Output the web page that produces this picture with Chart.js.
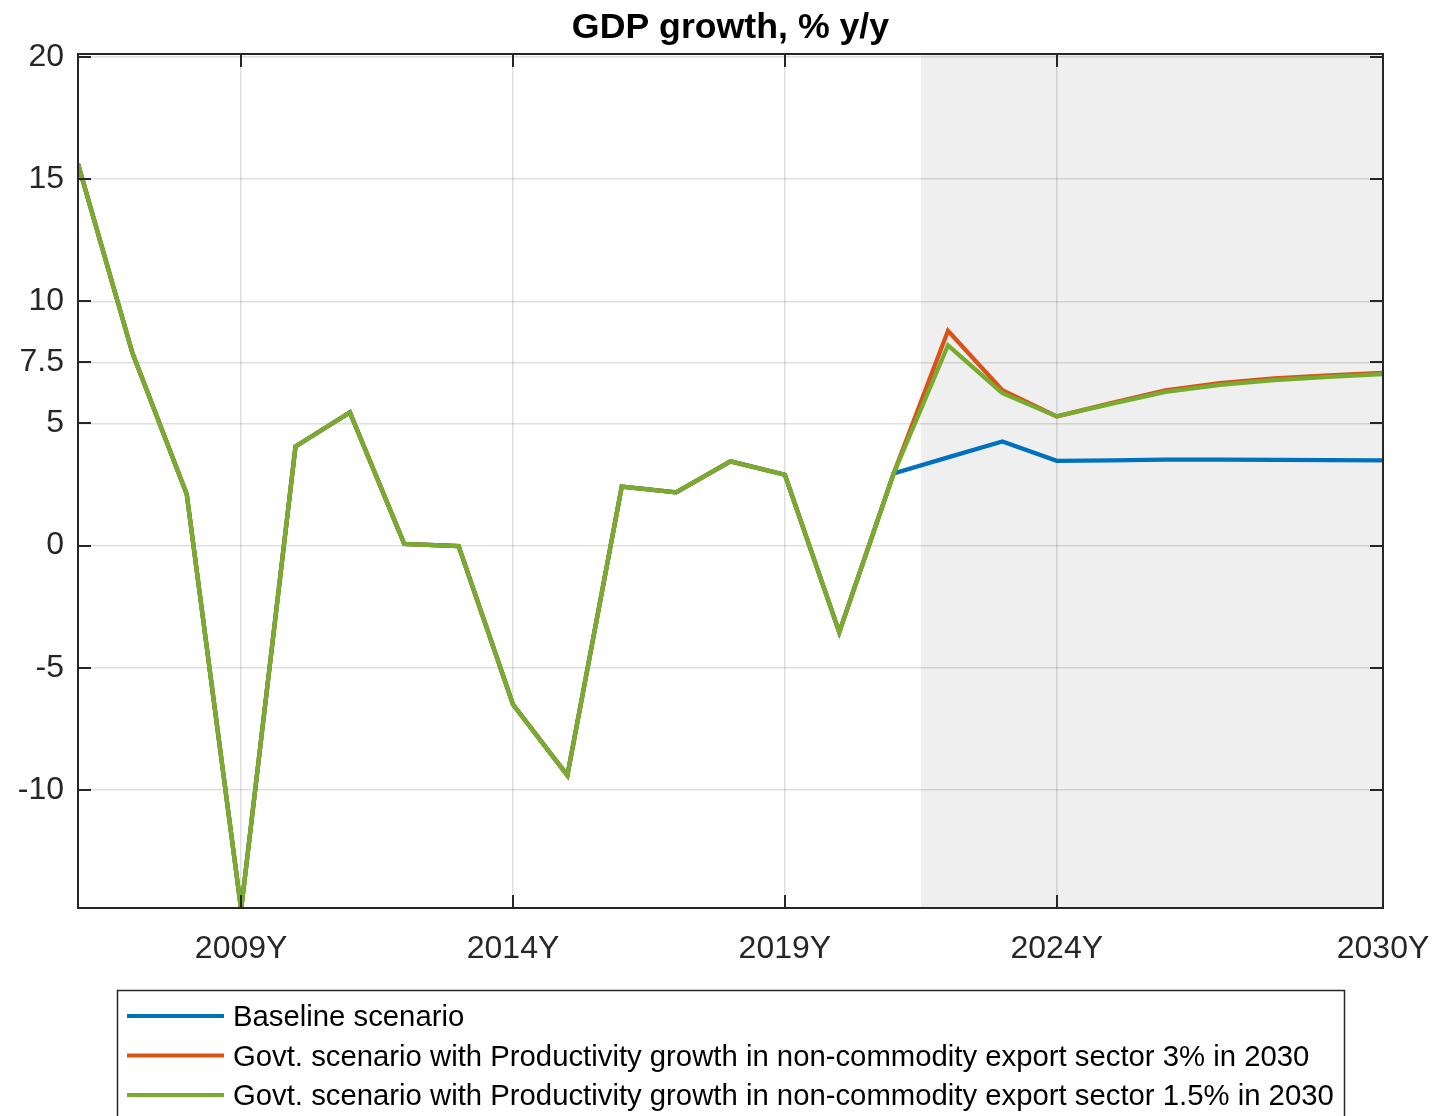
<!DOCTYPE html>
<html>
<head>
<meta charset="utf-8">
<title>GDP growth, % y/y</title>
<script src="https://cdn.jsdelivr.net/npm/chart.js@4.4.1/dist/chart.umd.min.js"></script>
<style>
  html, body { margin: 0; padding: 0; background: #ffffff; }
  #wrap { width: 1435px; height: 1116px; position: relative; }
</style>
</head>
<body>
<div id="wrap"><canvas id="c" width="1435" height="1116"></canvas></div>
<script>
// ---------- data ----------
const chartTitle = 'GDP growth, % y/y';
const years = [2006, 2007, 2008, 2009, 2010, 2011, 2012, 2013, 2014, 2015, 2016, 2017, 2018,
               2019, 2020, 2021, 2022, 2023, 2024, 2025, 2026, 2027, 2028, 2029, 2030];
const baseline = [15.62, 7.89, 2.10, -14.9, 4.06, 5.45, 0.07, -0.02, -6.50, -9.40, 2.42, 2.18, 3.45,
                  2.90, -3.54, 2.95, 3.61, 4.26, 3.47, 3.49, 3.52, 3.52, 3.51, 3.50, 3.49];
const govt3 = [15.62, 7.89, 2.10, -14.9, 4.06, 5.45, 0.07, -0.02, -6.50, -9.40, 2.42, 2.18, 3.45,
               2.90, -3.54, 2.95, 8.79, 6.36, 5.29, 5.83, 6.35, 6.65, 6.84, 6.97, 7.07];
const govt15 = [15.62, 7.89, 2.10, -14.9, 4.06, 5.45, 0.07, -0.02, -6.50, -9.40, 2.42, 2.18, 3.45,
                2.90, -3.54, 2.95, 8.20, 6.24, 5.29, 5.80, 6.29, 6.58, 6.77, 6.91, 7.02];
const seriesLabels = [
  'Baseline scenario',
  'Govt. scenario with Productivity growth in non-commodity export sector 3% in 2030',
  'Govt. scenario with Productivity growth in non-commodity export sector 1.5% in 2030'
];
const xTickYears = [2009, 2014, 2019, 2024, 2030];
const yTickValues = [-10, -5, 0, 5, 7.5, 10, 15, 20];
const xRange = [2006, 2030];
const yRange = [-14.83, 20.12];
const forecastStart = 2021.5;

// ---------- styles ----------
const colors = ['#0072BD', '#D95319', '#77AC30'];
const FONT = '"Liberation Sans", Arial, Helvetica, sans-serif';
const AXIS_COLOR = '#262626';

const toPoints = arr => years.map((yr, i) => ({ x: yr, y: arr[i] }));
const seriesValues = [baseline, govt3, govt15];

const datasets = seriesValues.map((vals, i) => ({
  label: seriesLabels[i],
  data: toPoints(vals),
  borderColor: colors[i],
  backgroundColor: colors[i],
  borderWidth: 4.3,
  pointRadius: 0,
  pointHoverRadius: 0,
  tension: 0,
  fill: false,
  order: seriesValues.length - 1 - i
}));

// shaded forecast region (under grid)
const shadePlugin = {
  id: 'shade',
  beforeDraw(chart) {
    const { ctx, chartArea: a, scales: { x } } = chart;
    const x0 = x.getPixelForValue(forecastStart);
    ctx.save();
    ctx.fillStyle = '#efefef';
    ctx.fillRect(x0, a.top, a.right - x0, a.bottom - a.top);
    ctx.restore();
  }
};

// box + inward tick marks
const boxPlugin = {
  id: 'box',
  afterDatasetsDraw(chart) {
    const { ctx, chartArea: a, scales: { x, y } } = chart;
    const len = 13;
    ctx.save();
    ctx.strokeStyle = AXIS_COLOR;
    ctx.lineWidth = 2;
    ctx.beginPath();
    y.ticks.forEach(t => {
      const py = Math.round(y.getPixelForValue(t.value));
      ctx.moveTo(a.left, py); ctx.lineTo(a.left + len, py);
      ctx.moveTo(a.right, py); ctx.lineTo(a.right - len, py);
    });
    x.ticks.forEach(t => {
      const px = Math.round(x.getPixelForValue(t.value));
      ctx.moveTo(px, a.bottom); ctx.lineTo(px, a.bottom - len);
      ctx.moveTo(px, a.top); ctx.lineTo(px, a.top + len);
    });
    ctx.stroke();
    ctx.strokeRect(a.left, a.top, a.right - a.left, a.bottom - a.top);
    ctx.restore();
  }
};

// title centred over plot area
const titlePlugin = {
  id: 'plotTitle',
  afterDraw(chart) {
    const { ctx, chartArea: a } = chart;
    ctx.save();
    ctx.fillStyle = '#000000';
    ctx.font = 'bold 35.7px ' + FONT;
    ctx.textAlign = 'center';
    ctx.textBaseline = 'alphabetic';
    ctx.fillText(chartTitle, (a.left + a.right) / 2, 38);
    ctx.restore();
  }
};

// boxed legend below the axes
const legendPlugin = {
  id: 'boxLegend',
  afterDraw(chart) {
    const { ctx } = chart;
    const left = 117, top = 990, right = 1344;
    ctx.save();
    ctx.fillStyle = '#ffffff';
    ctx.fillRect(left, top, right - left, 140);
    ctx.strokeStyle = AXIS_COLOR;
    ctx.lineWidth = 1.5;
    ctx.strokeRect(left + 0.5, top + 0.5, right - left, 140);
    ctx.font = '29.3px ' + FONT;
    ctx.textAlign = 'left';
    ctx.textBaseline = 'alphabetic';
    chart.data.datasets.forEach((ds, i) => {
      const cy = 1016 + i * 39.5;
      ctx.strokeStyle = ds.borderColor;
      ctx.lineWidth = 3.8;
      ctx.beginPath();
      ctx.moveTo(127, cy); ctx.lineTo(224, cy);
      ctx.stroke();
      ctx.fillStyle = '#000000';
      ctx.fillText(ds.label, 233, cy + 10);
    });
    ctx.restore();
  }
};

new Chart(document.getElementById('c'), {
  type: 'line',
  data: { datasets },
  plugins: [shadePlugin, boxPlugin, titlePlugin, legendPlugin],
  options: {
    responsive: false,
    animation: false,
    devicePixelRatio: 1,
    layout: { padding: { top: 54, left: 0, right: 52, bottom: 0 } },
    plugins: {
      legend: { display: false },
      title: { display: false },
      tooltip: { enabled: false }
    },
    scales: {
      x: {
        type: 'linear',
        min: xRange[0],
        max: xRange[1],
        afterBuildTicks(scale) { scale.ticks = xTickYears.map(v => ({ value: v })); },
        afterFit(scale) {
          scale.height = 208;
          scale.paddingLeft = 0;
          scale.paddingRight = 0;
        },
        grid: { color: 'rgba(38,38,38,0.15)', lineWidth: 1.5, drawTicks: false },
        border: { display: false },
        ticks: {
          color: AXIS_COLOR,
          font: { family: FONT, size: 32 },
          padding: 22,
          maxRotation: 0,
          autoSkip: false,
          callback: v => v + 'Y'
        }
      },
      y: {
        type: 'linear',
        min: yRange[0],
        max: yRange[1],
        afterBuildTicks(scale) { scale.ticks = yTickValues.map(v => ({ value: v })); },
        afterFit(scale) {
          scale.width = 78;
          scale.paddingTop = 0;
          scale.paddingBottom = 0;
        },
        grid: { color: 'rgba(38,38,38,0.15)', lineWidth: 1.5, drawTicks: false },
        border: { display: false },
        ticks: {
          color: AXIS_COLOR,
          font: { family: FONT, size: 32 },
          padding: 14,
          autoSkip: false,
          callback: v => String(v)
        }
      }
    }
  }
});
</script>
</body>
</html>
